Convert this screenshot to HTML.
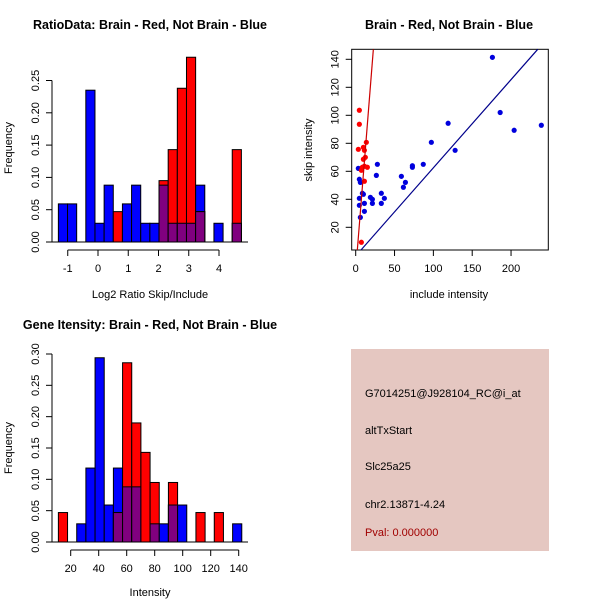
<!DOCTYPE html>
<html><head><meta charset="utf-8"><style>
html,body{margin:0;padding:0;background:#fff;width:600px;height:600px;overflow:hidden}
svg{display:block;font-family:"Liberation Sans",Arial,sans-serif}
</style></head><body>
<svg id="c" width="600" height="600" viewBox="0 0 600 600">
<g id="p1"></g>
<g id="p2"></g>
<g id="p3"></g>
<g>
<rect x="351" y="349" width="198" height="202" fill="#e5c7c1"/>
<text x="365" y="397" font-size="11" fill="#000">G7014251@J928104_RC@i_at</text>
<text x="365" y="434" font-size="11" fill="#000">altTxStart</text>
<text x="365" y="470" font-size="11" fill="#000">Slc25a25</text>
<text x="365" y="508" font-size="11" fill="#000">chr2.13871-4.24</text>
<text x="365" y="536" font-size="11" fill="#a00000">Pval: 0.000000</text>
</g>
</svg>
<script>
// ---- Panel 1 data (ratio histogram) ----
const ratioBinStart = -1.31;
const ratioBinWidth = 0.3025;
const ratioBlue = [0.059,0.059,0,0.235,0.029,0.088,0,0.059,0.088,0.029,0.029,0.088,0.029,0.029,0.029,0.088,0,0.029,0,0.029];
const ratioRed  = [0,0,0,0,0,0,0.047,0,0,0,0,0.095,0.143,0.238,0.286,0.047,0,0,0,0.143];
const ratioXTicks = [-1,0,1,2,3,4];
const ratioYTicks = ["0.00","0.05","0.10","0.15","0.20","0.25"];
// ---- Panel 2 data (scatter) ----
const blueInclude = [176,186,204,239,119,97.4,128,87,73,73,58.8,64,61.4,27.9,26.6,33,36.9,33,18.9,21.5,21.5,11.2,11.2,9.9,3.4,4.7,6,4.7,4.7,6,8.6];
const blueSkip    = [141.4,102,89.3,92.9,94.3,80.7,75,65,64,62.9,56.4,52.1,48.6,65,57.1,44.3,40.7,37.1,41.4,40,37.1,37.1,31.4,43.6,62.1,54.3,52.1,40.7,35.7,27.1,44.3];
const redInclude  = [4.7,4.7,3.4,13.7,9.9,11.2,12.4,9.9,11.2,15,8.6,7.3,11.2,7.3];
const redSkip     = [103.6,93.6,75.7,80.7,77.1,75,70,68.6,63.6,62.9,62.9,60.7,52.9,9.3];
const redFit  = [-10.8, 6.95];
const blueFit = [-0.5, 0.63];
const scatXTicks = [0,50,100,150,200];
const scatYTicks = [20,40,60,80,100,120,140];
// ---- Panel 3 data (intensity histogram) ----
const intBinStart = 11.2;
const intBinWidth = 6.55;
const intBlue = [0,0,0.029,0.118,0.294,0.059,0.118,0.088,0.088,0,0.029,0.029,0.059,0.059,0,0,0,0,0,0.029];
const intRed  = [0.047,0,0,0,0,0,0.047,0.286,0.19,0.143,0.095,0,0.095,0,0,0.047,0,0.047,0,0];
const intXTicks = [20,40,60,80,100,120,140];
const intYTicks = ["0.00","0.05","0.10","0.15","0.20","0.25","0.30"];

const NS="http://www.w3.org/2000/svg";
function mk(parent,tag,attrs){const e=document.createElementNS(NS,tag);for(const k in attrs)e.setAttribute(k,attrs[k]);parent.appendChild(e);return e;}

function hist(g,o){
  const sx=v=>o.x0px+(v-o.x0v)*o.pxPerX;
  const sy=v=>o.base-v*o.pxPerY;
  for(let i=0;i<o.blue.length;i++){
    const l=sx(o.binStart+i*o.binW), r=sx(o.binStart+(i+1)*o.binW);
    const b=o.blue[i], rd=o.red[i];
    if(b>0){const e=mk(g,'rect',{x:l,y:sy(b),width:r-l,height:o.base-sy(b),fill:'#0000ff',stroke:'#000','stroke-width':1});
      
      }
    if(rd>0){const e=mk(g,'rect',{x:l,y:sy(rd),width:r-l,height:o.base-sy(rd),fill:'#ff0000',stroke:'#000','stroke-width':1});
      
      }
    const m=Math.min(b,rd);
    if(m>0){const e=mk(g,'rect',{x:l,y:sy(m),width:r-l,height:o.base-sy(m),fill:'#80007f',stroke:'#000','stroke-width':1});
      
      }
  }
  const bl=mk(g,'line',{x1:o.plotL,x2:o.plotR,y1:o.base,y2:o.base,stroke:'#000'});
  
  
  const xa=mk(g,'g',{});
  
  
  mk(xa,'line',{x1:sx(o.xt[0]),x2:sx(o.xt[o.xt.length-1]),y1:o.axY,y2:o.axY,stroke:'#000'});
  o.xt.forEach(t=>{mk(xa,'line',{x1:sx(t),x2:sx(t),y1:o.axY,y2:o.axY+6,stroke:'#000'});
    const tx=mk(xa,'text',{x:sx(t),y:o.axY+22,'font-size':11,'text-anchor':'middle'});tx.textContent=t;
    
    });
  const ya=mk(g,'g',{});
  
  
  const ax=52;
  mk(ya,'line',{x1:ax,x2:ax,y1:o.base,y2:sy(parseFloat(o.yt[o.yt.length-1])),stroke:'#000'});
  o.yt.forEach(t=>{const y=sy(parseFloat(t));mk(ya,'line',{x1:ax-6,x2:ax,y1:y,y2:y,stroke:'#000'});
    const tx=mk(ya,'text',{x:ax-13,y:y,'font-size':11,'text-anchor':'middle',transform:`rotate(-90 ${ax-13} ${y})`});tx.textContent=t;
    
    });
  const t=mk(g,'text',{x:150,y:o.titleY,'font-size':12.5,'font-weight':'bold','text-anchor':'middle'});t.textContent=o.title;
  
  
  const xl=mk(g,'text',{x:150,y:o.xlabY,'font-size':11,'text-anchor':'middle'});xl.textContent=o.xlab;
  
  
  const yl=mk(g,'text',{x:12,y:o.ylabC,'font-size':11,'text-anchor':'middle',transform:`rotate(-90 12 ${o.ylabC})`});yl.textContent='Frequency';
  
  
}

hist(document.getElementById('p1'),{x0px:98,x0v:0,pxPerX:30.25,base:242,pxPerY:646,binStart:ratioBinStart,binW:ratioBinWidth,
  blue:ratioBlue,red:ratioRed,xt:ratioXTicks,yt:ratioYTicks,axY:250,plotL:52,plotR:248,
  title:'RatioData: Brain - Red, Not Brain - Blue',titleY:29,xlab:'Log2 Ratio Skip/Include',xlabY:298,ylabC:148});
hist(document.getElementById('p3'),{x0px:70.7,x0v:20,pxPerX:1.4,base:542,pxPerY:626.7,binStart:intBinStart,binW:intBinWidth,
  blue:intBlue,red:intRed,xt:intXTicks,yt:intYTicks,axY:550,plotL:52,plotR:248,
  title:'Gene Itensity: Brain - Red, Not Brain - Blue',titleY:329,xlab:'Intensity',xlabY:596,ylabC:448});

(function(){
  const g=document.getElementById('p2');
  const L=351.7,R=548.3,T=49.3,B=250;
  const sx=v=>355.7+v*0.7767;
  const sy=v=>227.3-(v-20)*1.4;
  const yMin=20-(B-227.3)/1.4, yMax=20+(227.3-T)/1.4;
  const box=mk(g,'rect',{x:L,y:T,width:R-L,height:B-T,fill:'none',stroke:'#000'});
  
  
  blueInclude.forEach((v,i)=>{const c=mk(g,'circle',{cx:sx(v),cy:sy(blueSkip[i]),r:2.6,fill:'#0000dd'});
    
    });
  redInclude.forEach((v,i)=>{const c=mk(g,'circle',{cx:sx(v),cy:sy(redSkip[i]),r:2.6,fill:'#ff0000'});
    
    });
  function fitLine(f,col){
    const xa=(yMin-f[0])/f[1], xb=(yMax-f[0])/f[1];
    return mk(g,'line',{x1:sx(xa),y1:sy(yMin),x2:sx(xb),y2:sy(yMax),stroke:col,'stroke-width':1.2});
  }
  const rl=fitLine(redFit,'#cc0000');
  
  
  const bl=fitLine(blueFit,'#00008b');
  
  
  scatXTicks.forEach(t=>{mk(g,'line',{x1:sx(t),x2:sx(t),y1:B,y2:B+6,stroke:'#000'});
    const tx=mk(g,'text',{x:sx(t),y:B+22,'font-size':11,'text-anchor':'middle'});tx.textContent=t;
    
    });
  scatYTicks.forEach(t=>{const y=sy(t);mk(g,'line',{x1:L-6,x2:L,y1:y,y2:y,stroke:'#000'});
    const tx=mk(g,'text',{x:L-13,y:y,'font-size':11,'text-anchor':'middle',transform:`rotate(-90 ${L-13} ${y})`});tx.textContent=t;
    
    });
  const t=mk(g,'text',{x:449,y:29,'font-size':12.5,'font-weight':'bold','text-anchor':'middle'});t.textContent='Brain - Red, Not Brain - Blue';
  
  
  const xl=mk(g,'text',{x:449,y:298,'font-size':11,'text-anchor':'middle'});xl.textContent='include intensity';
  
  
  const yl=mk(g,'text',{x:312,y:150,'font-size':11,'text-anchor':'middle',transform:'rotate(-90 312 150)'});yl.textContent='skip intensity';
  
  
})();
</script>
</body></html>
